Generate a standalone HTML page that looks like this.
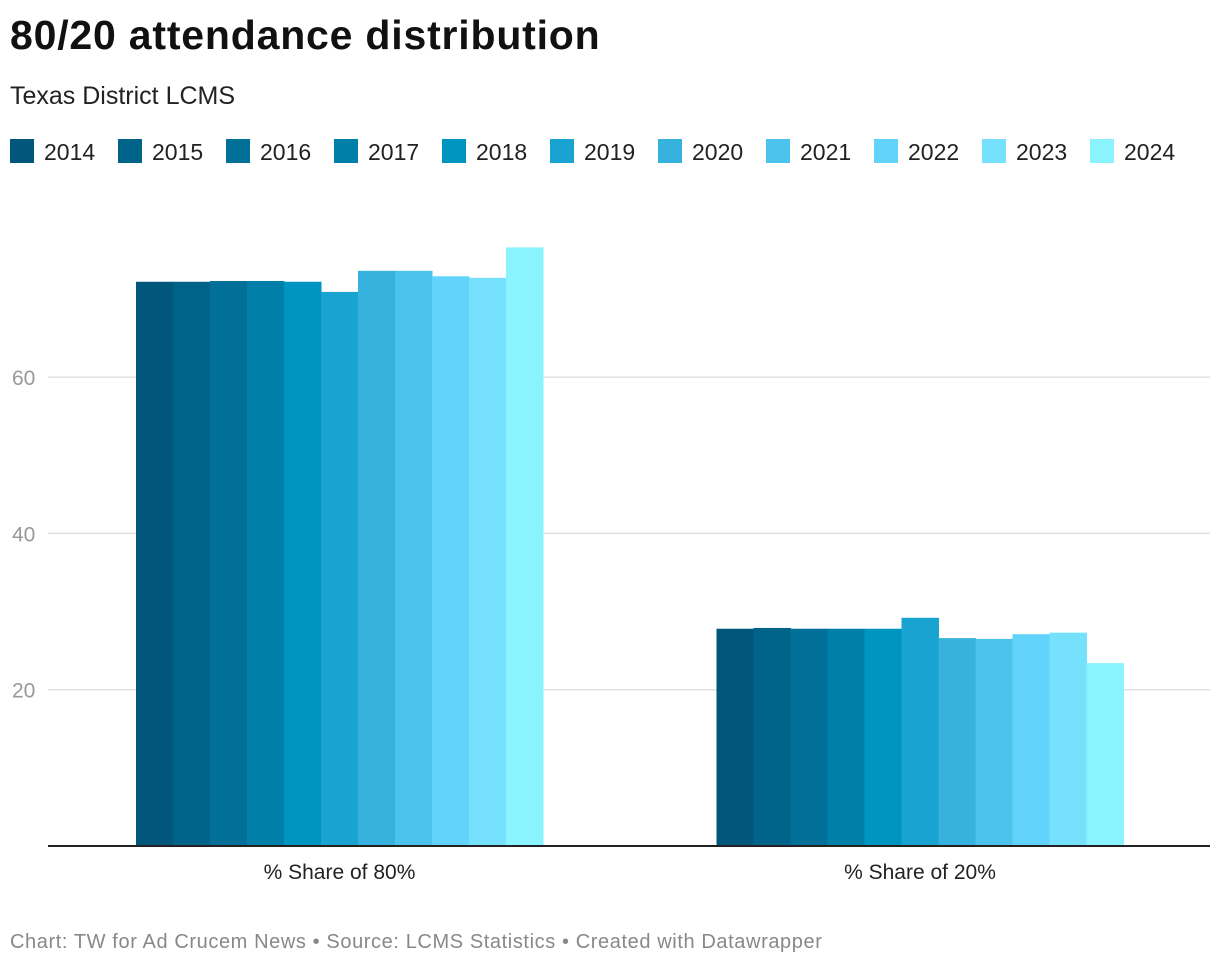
<!DOCTYPE html>
<html><head><meta charset="utf-8"><style>
body{margin:0;background:#fff;font-family:"Liberation Sans",sans-serif;width:1220px;height:968px;overflow:hidden;position:relative}
.t{position:absolute;left:10px;top:12px;font-size:41px;font-weight:bold;color:#111;letter-spacing:0.8px}
.s{position:absolute;left:10px;top:82px;font-size:25px;color:#222}
.f{position:absolute;left:10px;top:931px;font-size:20px;color:#888;letter-spacing:0.6px}
</style></head><body>
<div class="t">80/20 attendance distribution</div>
<div class="s">Texas District LCMS</div>
<svg id="c" width="1220" height="968" style="position:absolute;left:0;top:0"></svg>
<div class="f">Chart: TW for Ad Crucem News • Source: LCMS Statistics • Created with Datawrapper</div>
<script>
const years=["2014","2015","2016","2017","2018","2019","2020","2021","2022","2023","2024"];
const categories=["% Share of 80%","% Share of 20%"];
const share80=[72.2,72.2,72.3,72.3,72.2,70.9,73.6,73.6,72.9,72.7,76.6];
const share20=[27.8,27.9,27.8,27.8,27.8,29.2,26.6,26.5,27.1,27.3,23.4];
const ticks=[20,40,60];
const colors=["#00577b","#006389","#007099","#007fa9","#0094c0","#19a3d0","#37b2de","#4bc3ec","#62d3fb","#76e1fc","#8af3fe"];
const svg=document.getElementById('c');const NS="http://www.w3.org/2000/svg";
function mk(t,a){const e=document.createElementNS(NS,t);for(const k in a)e.setAttribute(k,a[k]);svg.appendChild(e);return e;}
const y=v=>846-v*7.815;
const centers=[339.5,920],bw=37;
years.forEach((yr,i)=>{const x=10+i*108;
 const r=mk('rect',{x:x,y:139,width:24,height:24,fill:colors[i]});
 
 
 const t=mk('text',{x:x+34,y:160,'font-size':23,fill:'#222'});t.textContent=yr;
 
 });
ticks.forEach(v=>{const l=mk('line',{x1:48,x2:1210,y1:y(v),y2:y(v),stroke:'#e0e0e0','stroke-width':1.5});
 
 
 const t=mk('text',{x:12,y:y(v)+8,'font-size':21,fill:'#999'});t.textContent=v;
 
 });
[share80,share20].forEach((ser,g)=>{const x0=centers[g]-bw*ser.length/2;
 ser.forEach((v,i)=>{const r=mk('rect',{x:x0+i*bw,y:y(v),width:bw+0.5,height:846-y(v),fill:colors[i]});
  
  });
 const t=mk('text',{x:centers[g],y:879,'font-size':21,fill:'#222','text-anchor':'middle'});t.textContent=categories[g];
 
 });
const b=mk('line',{x1:48,x2:1210,y1:846,y2:846,stroke:'#222','stroke-width':2});


</script>
</body></html>
